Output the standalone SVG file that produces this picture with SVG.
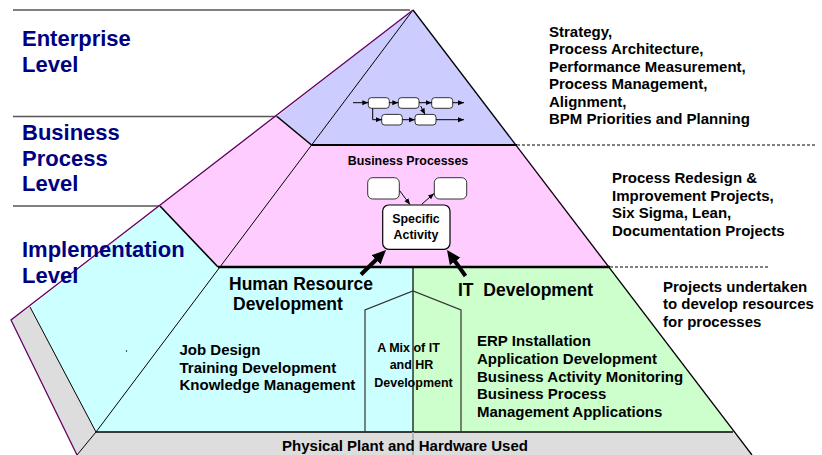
<svg xmlns="http://www.w3.org/2000/svg" width="822" height="455" viewBox="0 0 822 455">
<style>
.f{font-family:"Liberation Sans",Arial,sans-serif;font-weight:bold}
.lvl{font-size:22px;fill:#000080}
.t15{font-size:15px;fill:#000}
.t17{font-size:17.5px;fill:#000}
.t12{font-size:12.4px;fill:#000}
.mid{text-anchor:middle}
.box{fill:#fff;stroke:#333;stroke-width:1}
.ln{stroke:#000;fill:none}
.guide{stroke:#555;stroke-width:1.3}
.dash{stroke:#000;stroke-width:1;stroke-dasharray:3,2}
</style>
<defs>
<marker id="sm" markerUnits="userSpaceOnUse" viewBox="0 0 6 6" markerWidth="6" markerHeight="6" refX="6" refY="3" orient="auto"><path d="M0,0.5 L6,3 L0,5.5 z" fill="#000"/></marker>
<marker id="big" markerUnits="userSpaceOnUse" viewBox="0 0 14 14" markerWidth="14" markerHeight="14" refX="8" refY="7" orient="auto"><path d="M0,0.5 L14,7 L0,13.5 z" fill="#000"/></marker>
</defs>
<rect width="822" height="455" fill="#fff"/>

<g id="guides">
<line class="guide" x1="13" y1="10" x2="410" y2="10"/>
<line class="guide" x1="13" y1="116.5" x2="277" y2="116.5"/>
<line class="guide" x1="13" y1="206" x2="160" y2="206"/>
<line class="dash" x1="517" y1="145" x2="816" y2="145"/>
<line class="dash" x1="610" y1="267" x2="770" y2="267"/>
</g>

<g id="pyramid">
<!-- left face -->
<polygon points="413,10 277,116.5 311.5,145" fill="#ccccff"/>
<polygon points="277,116.5 311.5,145 218,267 160,206" fill="#ffccff"/>
<polygon points="160,206 218,267 96,432 30,307" fill="#ccffff"/>
<polygon points="11,320 30,307 96,432 77,455" fill="#dddddd"/>
<!-- front face -->
<polygon points="413,10 311.5,145 517,145" fill="#ccccff"/>
<polygon points="311.5,145 517,145 610,267 218,267" fill="#ffccff"/>
<polygon points="218,267 413,267 413,432 96,432" fill="#ccffff"/>
<polygon points="413,267 610,267 733,432 413,432" fill="#ccffcc"/>
<polygon points="96,432 733,432 752,455 77,455" fill="#dddddd"/>
<!-- edges -->
<line class="ln" x1="413" y1="10" x2="96" y2="432" stroke-width="1"/>
<line class="ln" x1="277" y1="116.5" x2="311.5" y2="145" stroke-width="1.6"/>
<line class="ln" x1="160" y1="206" x2="218" y2="267" stroke-width="1.6"/>
<line class="ln" x1="30" y1="307" x2="96" y2="432" stroke-width="1"/>
<line class="ln" x1="96" y1="432" x2="77" y2="455" stroke-width="1"/>
<line class="ln" x1="311.5" y1="145" x2="517" y2="145" stroke-width="2"/>
<line class="ln" x1="218" y1="267" x2="610" y2="267" stroke-width="2.5"/>
<line class="ln" x1="96" y1="432" x2="733" y2="432" stroke-width="1.3"/>
<line class="ln" x1="413" y1="267" x2="413" y2="432" stroke-width="1.2"/>
<line x1="413" y1="432" x2="413" y2="455" stroke="#aaa" stroke-width="1.5"/>
<path d="M365,432 V310 L413,291 L461,310 V432" fill="none" stroke="#333" stroke-width="1.2"/>
<path d="M413,10 L11,320 L77,455" fill="none" stroke="#660066" stroke-width="1.3"/>
<line class="ln" x1="413" y1="10" x2="752" y2="455" stroke-width="1.3"/>
<circle cx="126.5" cy="351" r="0.7" fill="#000"/>
</g>

<g id="enterprise-chain">
<rect class="box" x="368.3" y="97.7" width="21" height="10.6" rx="3"/>
<rect class="box" x="398.3" y="97.7" width="20.7" height="10.6" rx="3"/>
<rect class="box" x="431.7" y="97.7" width="21" height="10.6" rx="3"/>
<rect class="box" x="381.7" y="114.4" width="20.6" height="10.6" rx="3"/>
<rect class="box" x="415" y="114.4" width="21" height="10.6" rx="3"/>
</g>

<g id="business-processes">
<text class="f t12 mid" x="408" y="165">Business Processes</text>
<rect class="box" x="367.7" y="177.7" width="31.6" height="21.3" rx="5"/>
<rect class="box" x="434.3" y="177.7" width="32.4" height="21.3" rx="5"/>
</g>

<g id="specific-activity">
<rect x="382.7" y="205" width="67.3" height="44.3" rx="6" fill="#fff" stroke="#000" stroke-width="1.2"/>
<text class="f t12 mid" x="416" y="223">Specific</text>
<text class="f t12 mid" x="416" y="239">Activity</text>
</g>

<g id="connectors" stroke="#000" fill="none">
<line x1="353" y1="102.7" x2="368.3" y2="102.7" marker-end="url(#sm)"/>
<line x1="389.3" y1="102.7" x2="398.3" y2="102.7" marker-end="url(#sm)"/>
<line x1="419" y1="102.7" x2="431.7" y2="102.7" marker-end="url(#sm)"/>
<line x1="452.7" y1="102.7" x2="464" y2="102.7" marker-end="url(#sm)"/>
<path d="M372.7,108.3 V119.7 H381.7" marker-end="url(#sm)"/>
<line x1="402.3" y1="119.7" x2="415" y2="119.7" marker-end="url(#sm)"/>
<line x1="436" y1="119.7" x2="464" y2="119.7" marker-end="url(#sm)"/>
<line x1="420.7" y1="106" x2="425" y2="114.4" marker-end="url(#sm)"/>
<line x1="399.5" y1="190.5" x2="410" y2="204.5" marker-end="url(#sm)"/>
<line x1="421.7" y1="204.3" x2="434" y2="193.5" marker-end="url(#sm)"/>
<line x1="361" y1="274.5" x2="381.7" y2="254.2" stroke-width="4" marker-end="url(#big)"/>
<line x1="465.5" y1="276" x2="450.5" y2="254.9" stroke-width="4" marker-end="url(#big)"/>
</g>

<g id="level-labels" class="f lvl">
<text x="22" y="45.5">Enterprise</text>
<text x="22" y="71.5">Level</text>
<text x="22" y="140">Business</text>
<text x="22" y="165.5">Process</text>
<text x="22" y="190.5">Level</text>
<text x="22" y="257">Implementation</text>
<text x="22" y="283">Level</text>
</g>

<g id="enterprise-notes" class="f t15">
<text x="549" y="36.5">Strategy,</text>
<text x="549" y="54">Process Architecture,</text>
<text x="549" y="71.5">Performance Measurement,</text>
<text x="549" y="89">Process Management,</text>
<text x="549" y="106.5">Alignment,</text>
<text x="549" y="124">BPM Priorities and Planning</text>
</g>

<g id="business-notes" class="f t15">
<text x="612" y="182.5">Process Redesign &amp;</text>
<text x="612" y="200.5">Improvement Projects,</text>
<text x="612" y="218">Six Sigma, Lean,</text>
<text x="612" y="235.5">Documentation Projects</text>
</g>

<g id="implementation-notes" class="f t15">
<text x="663" y="291.5">Projects undertaken</text>
<text x="663" y="309">to develop resources</text>
<text x="663" y="326.5">for processes</text>
</g>

<g id="hr-development">
<text class="f t17" x="229" y="290">Human Resource</text>
<text class="f t17" x="233" y="309.5">Development</text>
<text class="f t15" x="179.5" y="355">Job Design</text>
<text class="f t15" x="179.5" y="372.5">Training Development</text>
<text class="f t15" x="179.5" y="390">Knowledge Management</text>
</g>

<g id="mix">
<text class="f mid" font-size="12.5" x="408.5" y="351.5">A Mix of IT</text>
<text class="f mid" font-size="12.5" x="411.5" y="369">and HR</text>
<text class="f mid" font-size="12.5" x="413.5" y="387">Development</text>
</g>

<g id="it-development">
<text class="f t17" x="458" y="296" xml:space="preserve">IT  Development</text>
<text class="f t15" x="477" y="346">ERP Installation</text>
<text class="f t15" x="477" y="363.5">Application Development</text>
<text class="f t15" x="477" y="381.5">Business Activity Monitoring</text>
<text class="f t15" x="477" y="399">Business Process</text>
<text class="f t15" x="477" y="416.5">Management Applications</text>
</g>

<g id="physical-plant">
<text class="f t15 mid" x="405" y="451">Physical Plant and Hardware Used</text>
</g>
</svg>
